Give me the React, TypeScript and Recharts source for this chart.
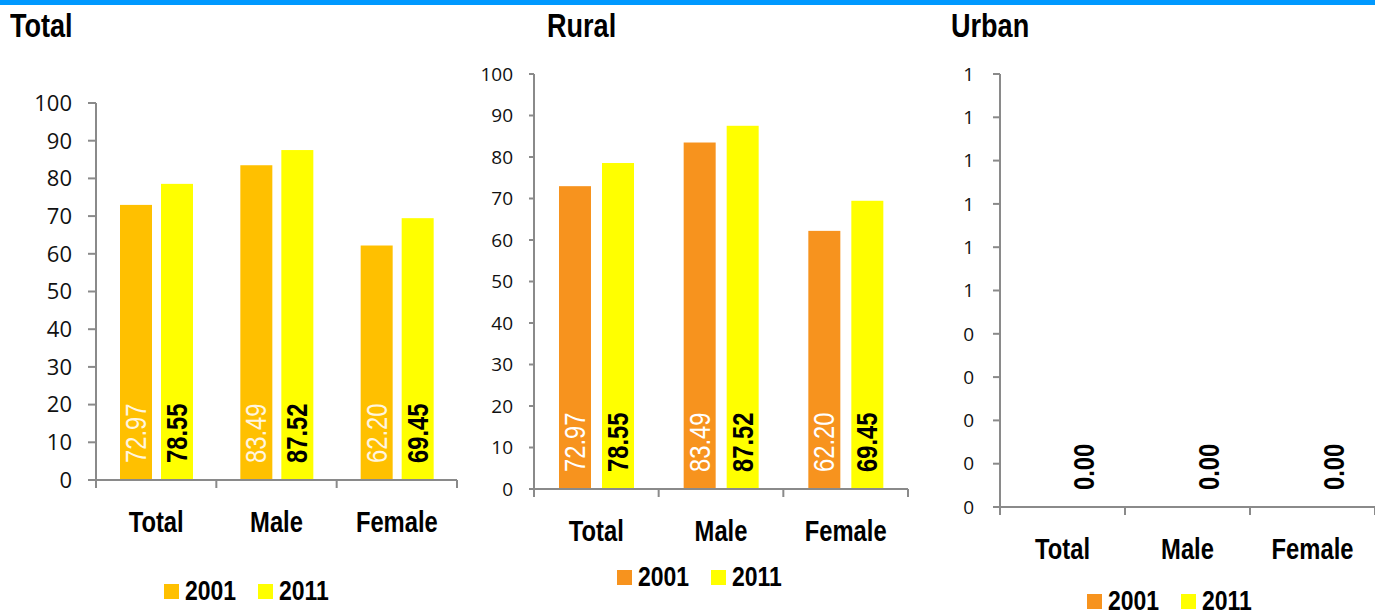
import React from 'react';
import { BarChart, Bar, XAxis, YAxis, LabelList, Legend } from 'recharts';

// ---------- data ----------
const categories = ['Total', 'Male', 'Female'];
const seriesNames = ['2001', '2011'];
const panelTitles = ['Total', 'Rural', 'Urban'];

const totalValues2001 = [72.97, 83.49, 62.2];
const totalValues2011 = [78.55, 87.52, 69.45];
const ruralValues2001 = [72.97, 83.49, 62.2];
const ruralValues2011 = [78.55, 87.52, 69.45];
const urbanValues2001 = [0, 0, 0];
const urbanValues2011 = [0, 0, 0];

const pctTicks = [0, 10, 20, 30, 40, 50, 60, 70, 80, 90, 100];
const urbanTicks = [0, 0.1, 0.2, 0.3, 0.4, 0.5, 0.6, 0.7, 0.8, 0.9, 1];

// ---------- styles ----------
const BOLDFONT = "'Liberation Sans', Arial, sans-serif";
const NARROW_SCALE = 0.82;
const TICKFONT = "'Open Sans', 'Noto Sans', sans-serif";
const AXIS = '#8a8a8a';
const H = 610;
const XAXIS_H = 40;

type PanelStyle = {
  left: number;
  width: number;
  plotTop: number;
  plotBottom: number;
  yAxisWidth: number;
  marginRight: number;
  tickSize: number;
  tickMargin: number;
  tickFont: number;
  color2001: string;
  label2001Color: string;
  barGap: number;
  legendLeft: number;
  legendTop: number;
  titleLeft: number;
  minPointSize: number;
};

const styles: PanelStyle[] = [
  {
    left: 0, width: 470, plotTop: 103, plotBottom: 480, yAxisWidth: 96, marginRight: 13,
    tickSize: 8, tickMargin: 16, tickFont: 22, color2001: '#FFC000', label2001Color: '#FFF6E0',
    barGap: 9, legendLeft: 164, legendTop: 577, titleLeft: 10, minPointSize: 0,
  },
  {
    left: 470, width: 460, plotTop: 74, plotBottom: 489, yAxisWidth: 64, marginRight: 22,
    tickSize: 5, tickMargin: 16, tickFont: 19, color2001: '#F7931E', label2001Color: '#FFFFFF',
    barGap: 11, legendLeft: 147, legendTop: 563, titleLeft: 547, minPointSize: 0,
  },
  {
    left: 930, width: 445, plotTop: 74, plotBottom: 507, yAxisWidth: 70, marginRight: 0,
    tickSize: 7, tickMargin: 19, tickFont: 19, color2001: '#F7931E', label2001Color: '#FFFFFF',
    barGap: 11, legendLeft: 157, legendTop: 587, titleLeft: 951, minPointSize: 1,
  },
];

function NarrowText({
  x, y, anchor, size, weight, fill, rotate, children,
}: {
  x: number; y: number; anchor: 'start' | 'middle' | 'end'; size: number; weight: number;
  fill: string; rotate?: number; children: React.ReactNode;
}) {
  const t = `translate(${x} ${y})${rotate ? ` rotate(${rotate})` : ''} scale(${NARROW_SCALE} 1)`;
  return (
    <text
      x={0}
      y={0}
      transform={t}
      textAnchor={anchor}
      dominantBaseline="central"
      fontFamily={BOLDFONT}
      fontSize={size}
      fontWeight={weight}
      fill={fill}
    >
      {children}
    </text>
  );
}

const CategoryTick = (props: any) => {
  const { x, y, payload, index, band } = props;
  const last = index === categories.length - 1;
  return (
    <g>
      <line x1={x - band / 2} y1={y} x2={x - band / 2} y2={y + 8} stroke={AXIS} strokeWidth={2} />
      {last && <line x1={x + band / 2} y1={y} x2={x + band / 2} y2={y + 8} stroke={AXIS} strokeWidth={2} />}
      <NarrowText x={x} y={y + 42} anchor="middle" size={29} weight={700} fill="#000">
        {payload.value}
      </NarrowText>
    </g>
  );
};

const makeLabel = (color: string, weight: number) => (props: any) => {
  const { x, y, width, height, value } = props;
  const cx = Number(x) + Number(width) / 2;
  const by = Number(y) + Number(height) - 17;
  return (
    <NarrowText x={cx} y={by} anchor="start" size={29} weight={weight} fill={color} rotate={-90}>
      {Number(value).toFixed(2)}
    </NarrowText>
  );
};

const BarShape = (props: any) => {
  const { x, y, width, height, fill, value } = props;
  const v = Array.isArray(value) ? value[1] - value[0] : value;
  if (!v) return <g />;
  return <rect x={x} y={y} width={width} height={height} fill={fill} />;
};

const LegendContent = (props: any) => {
  const { payload } = props;
  return (
    <div style={{ display: 'flex', alignItems: 'center', whiteSpace: 'nowrap', height: 28 }}>
      {(payload || []).map((p: any) => (
        <span key={p.value} style={{ display: 'flex', alignItems: 'center', width: 94, flex: 'none' }}>
          <span style={{ display: 'inline-block', width: 15, height: 15, background: p.color, marginRight: 6 }} />
          <span
            style={{
              display: 'inline-block',
              transform: `scaleX(${NARROW_SCALE})`,
              transformOrigin: 'left center',
              fontFamily: BOLDFONT,
              fontWeight: 700,
              fontSize: 28,
              lineHeight: '28px',
              color: '#000',
            }}
          >
            {p.value}
          </span>
        </span>
      ))}
    </div>
  );
};

function Panel({
  v1, v2, domain, ticks, fmt, s, title,
}: {
  v1: number[]; v2: number[]; domain: [number, number]; ticks: number[];
  fmt?: (v: number) => string; s: PanelStyle; title: string;
}) {
  const data = categories.map((name, i) => ({ name, y2001: v1[i], y2011: v2[i] }));
  const band = (s.width - s.marginRight - s.yAxisWidth) / categories.length;
  return (
    <div style={{ position: 'absolute', left: s.left, top: 0, width: s.width, height: H }}>
      <div
        style={{
          position: 'absolute',
          left: s.titleLeft - s.left,
          top: 9,
          fontFamily: BOLDFONT,
          fontWeight: 700,
          fontSize: 33,
          lineHeight: '33px',
          color: '#000',
          whiteSpace: 'nowrap',
          transform: `scaleX(${NARROW_SCALE})`,
          transformOrigin: 'left center',
        }}
      >
        {title}
      </div>
      <BarChart
        width={s.width}
        height={H}
        data={data}
        margin={{ top: s.plotTop, right: s.marginRight, bottom: H - s.plotBottom - XAXIS_H, left: 0 }}
        barGap={s.barGap}
        barSize={32}
      >
        <XAxis
          dataKey="name"
          height={XAXIS_H}
          interval={0}
          axisLine={{ stroke: AXIS, strokeWidth: 2 }}
          tickLine={false}
          tickSize={0}
          tickMargin={0}
          tick={<CategoryTick band={band} />}
        />
        <YAxis
          type="number"
          domain={domain}
          ticks={ticks}
          interval={0}
          width={s.yAxisWidth}
          axisLine={{ stroke: AXIS, strokeWidth: 2 }}
          tickLine={{ stroke: AXIS, strokeWidth: 2 }}
          tickSize={s.tickSize}
          tickMargin={s.tickMargin}
          tick={{ fontSize: s.tickFont, fill: '#111', fontFamily: TICKFONT }}
          tickFormatter={fmt}
          allowDataOverflow
        />
        <Bar
          dataKey="y2001"
          name={seriesNames[0]}
          fill={s.color2001}
          minPointSize={s.minPointSize}
          shape={<BarShape />}
          isAnimationActive={false}
        >
          <LabelList dataKey="y2001" content={makeLabel(s.label2001Color, 400)} />
        </Bar>
        <Bar
          dataKey="y2011"
          name={seriesNames[1]}
          fill="#FFFF00"
          minPointSize={s.minPointSize}
          shape={<BarShape />}
          isAnimationActive={false}
        >
          <LabelList dataKey="y2011" content={makeLabel('#000', 700)} />
        </Bar>
        <Legend
          layout="horizontal"
          verticalAlign="middle"
          align="center"
          wrapperStyle={{ left: s.legendLeft, top: s.legendTop, width: 'auto', height: 28 }}
          content={<LegendContent />}
        />
      </BarChart>
    </div>
  );
}

export default function App() {
  return (
    <div
      style={{
        position: 'absolute',
        left: 0,
        top: 0,
        width: 1375,
        height: 610,
        overflow: 'hidden',
        background: '#fff',
      }}
    >
      <div style={{ position: 'absolute', left: 0, top: 0, width: 1375, height: 5, background: '#0099FF' }} />
      <Panel v1={totalValues2001} v2={totalValues2011} domain={[0, 100]} ticks={pctTicks} s={styles[0]} title={panelTitles[0]} />
      <Panel v1={ruralValues2001} v2={ruralValues2011} domain={[0, 100]} ticks={pctTicks} s={styles[1]} title={panelTitles[1]} />
      <Panel
        v1={urbanValues2001}
        v2={urbanValues2011}
        domain={[0, 1]}
        ticks={urbanTicks}
        fmt={(v: number) => String(Math.round(v))}
        s={styles[2]}
        title={panelTitles[2]}
      />
    </div>
  );
}
